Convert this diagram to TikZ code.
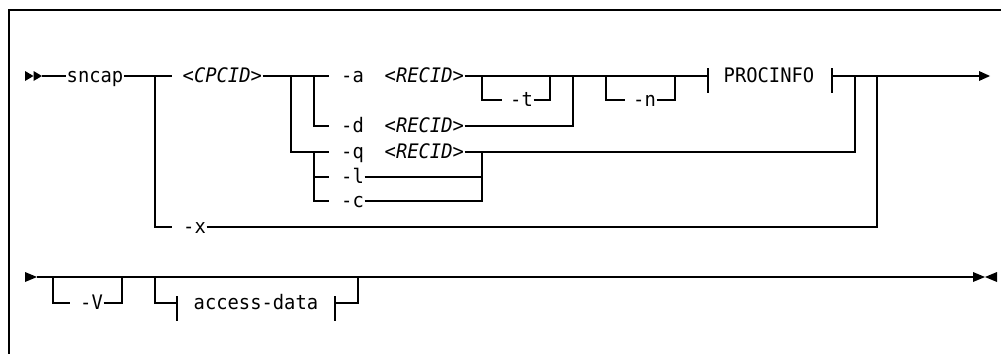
\documentclass[tikz,border=0pt]{standalone}
\usepackage{fontspec}
\newfontfamily\dmono{DejaVu Sans Mono}[FakeStretch=0.94]
\begin{document}
\begin{tikzpicture}[x=1pt,y=-1pt,line width=1.4pt,
  lbl/.style={inner sep=0pt,text height=13pt,text depth=0pt,anchor=west,
    font=\dmono\fontsize{20}{24}\selectfont},
  tipfill/.style={fill=black,draw=none}]
\useasboundingbox (0,0) rectangle (1001,354);
% frame
\draw (1001,10) -- (9,10) -- (9,354);
% junction coordinates, row 1
\coordinate (s0) at (42,76);
\coordinate (j155) at (155,76);
\coordinate (j291) at (291,76);
\coordinate (j314) at (314,76);
\coordinate (j482) at (482,76);
\coordinate (j550) at (550,76);
\coordinate (j573) at (573,76);
\coordinate (j606) at (606,76);
\coordinate (j675) at (675,76);
\coordinate (procL) at (708,76);
\coordinate (procR) at (832,76);
\coordinate (j855) at (855,76);
\coordinate (j877) at (877,76);
\coordinate (end1) at (979,76);
% labels row 1
\node[lbl] (sncap) at (66,76) {sncap};
\node[lbl] (cpcid) at (182,76) {<\textit{CPCID}>};
\node[lbl] (a) at (340.5,76) {-a};
\node[lbl] (recA) at (384,76) {<\textit{RECID}>};
\node[lbl] (t) at (509.5,100) {-t};
\node[lbl] (n) at (632.5,100) {-n};
\node[lbl] (proc) at (723,76) {PROCINFO};
\node[lbl] (d) at (340.5,126) {-d};
\node[lbl] (recD) at (384,126) {<\textit{RECID}>};
\node[lbl] (q) at (340.5,152) {-q};
\node[lbl] (recQ) at (384,152) {<\textit{RECID}>};
\node[lbl] (l) at (340.5,177) {-l};
\node[lbl] (c) at (340.5,201) {-c};
\node[lbl] (x) at (182.5,227) {-x};
% start arrows
\fill[tipfill] (25,71) -- (33.5,76) -- (25,81) -- cycle;
\fill[tipfill] (33.5,71) -- (42,76) -- (33.5,81) -- cycle;
% main rail row 1
\draw (s0) -- (sncap.west);
\draw (sncap.east) -- ([xshift=-10pt]cpcid.west);
\draw (j155) |- ([xshift=-10.5pt]x.west);
\draw (cpcid.east) -- ([xshift=-11.5pt]a.west);
\draw (j314) |- ([xshift=-11.5pt]d.west);
\draw (j291) |- ([xshift=-11.5pt]q.west);
\draw (j314 |- q.west) |- ([xshift=-11.5pt]c.west);
\draw (j314 |- l.west) -- ([xshift=-11.5pt]l.west);
\draw (recA.east) -- (procL);
\draw (j482) |- ([xshift=-7.5pt]t.west);
\draw (t.east) -| (j550);
\draw (j606) |- ([xshift=-7.5pt]n.west);
\draw (n.east) -| (j675);
\draw (recD.east) -| (j573);
\draw (recQ.east) -| (j855);
\draw (l.east) -- (j482 |- l.west);
\draw (c.east) -| (j482 |- q.west);
\draw (x.east) -| (j877);
\draw ([yshift=8pt]procL) -- ([yshift=-17pt]procL);
\draw ([yshift=8pt]procR) -- ([yshift=-17pt]procR);
\draw (procR) -- (end1);
\fill[tipfill] (979,71) -- (990,76) -- (979,81) -- cycle;
% row 2
\coordinate (st2) at (37,277);
\coordinate (e2) at (973,277);
\coordinate (v0) at (53,277);
\coordinate (v1) at (122,277);
\coordinate (a0) at (155,277);
\coordinate (accL) at (177,303);
\coordinate (accR) at (335,303);
\coordinate (a1) at (358,277);
\node[lbl] (V) at (79.5,303) {-V};
\node[lbl] (acc) at (193,303) {access-data};
\fill[tipfill] (25,272) -- (37,277) -- (25,282) -- cycle;
\draw (st2) -- (e2);
\fill[tipfill] (973,272) -- (985,277) -- (973,282) -- cycle;
\fill[tipfill] (997,272) -- (985,277) -- (997,282) -- cycle;
\draw (v0) |- ([xshift=-9.5pt]V.west);
\draw (V.east) -| (v1);
\draw (a0) |- (accL);
\draw ([yshift=7pt]accL) -- ([yshift=-18pt]accL);
\draw ([yshift=7pt]accR) -- ([yshift=-18pt]accR);
\draw (accR) -| (a1);
\end{tikzpicture}
\end{document}
